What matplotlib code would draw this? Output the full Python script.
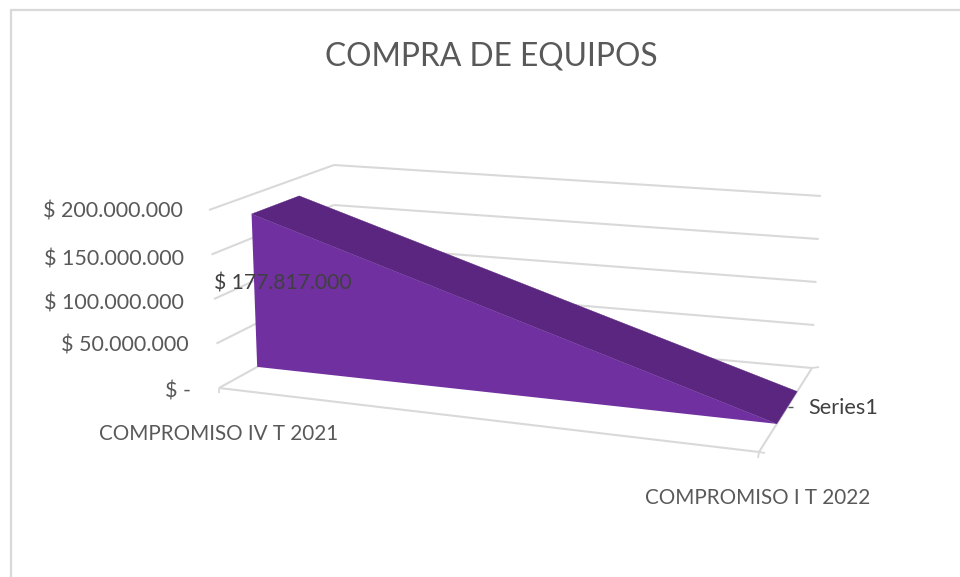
import numpy as np
import matplotlib
matplotlib.use("Agg")
import matplotlib.pyplot as plt
from matplotlib.patches import Polygon

plt.rcParams['font.family'] = ['Lato', 'DejaVu Sans']

W, H = 960, 577

title = "COMPRA DE EQUIPOS"
categories = ["COMPROMISO IV T 2021", "COMPROMISO I T 2022"]
series_name = "Series1"
values = [177817000, 0]
value_ticks = [0, 50000000, 100000000, 150000000, 200000000]
value_tick_labels = ["$ -", "$ 50.000.000", "$ 100.000.000", "$ 150.000.000", "$ 200.000.000"]
data_label = "$ 177.817.000"

# Projected corners of the 3D box, screen pixels: (category, depth, value fraction)
corner = {
    (0, 0, 0): (219, 388), (1, 0, 0): (759, 452),
    (0, 1, 0): (333, 325), (1, 1, 0): (812, 368),
    (0, 0, 1): (209, 210), (1, 0, 1): (745, 262),
    (0, 1, 1): (334, 165), (1, 1, 1): (821, 196),
}
AREA_FRONT, AREA_BACK = 0.335, 0.72
VMAX = value_ticks[-1]


def project(x, d, v):
    """Trilinear projection of (category position, depth, value) to pixels."""
    f = v / VMAX
    p = np.zeros(2)
    for i in (0, 1):
        for j in (0, 1):
            for k in (0, 1):
                w = (x if i else 1 - x) * (d if j else 1 - d) * (f if k else 1 - f)
                p += w * np.array(corner[(i, j, k)], float)
    return p


fig = plt.figure(figsize=(W / 100, H / 100), dpi=100)
ax = fig.add_axes([0, 0, 1, 1])
ax.set_xlim(0, W)
ax.set_ylim(H, 0)
ax.axis("off")

# chart frame: only the left and top edges fall inside the picture
ax.plot([11, 11, W], [H, 10, 10], color="#D9D9D9", lw=1.6, zorder=1,
        solid_joinstyle="miter")

GRID = "#D9D9D9"
GL = 1.5


def seg(a, b, color=GRID, lw=GL, z=2):
    ax.plot([a[0], b[0]], [a[1], b[1]], color=color, lw=lw, zorder=z,
            solid_capstyle="butt")


# walls: gridlines on left wall and back wall
for v in value_ticks:
    seg(project(0, 0, v), project(0, 1, v))
    seg(project(0, 1, v), project(1, 1, v))

# floor edges and ticks
seg(project(0, 0, 0), project(1, 0, 0))
seg(project(1, 0, 0), project(1, 1, 0))
p = project(0, 0, 0)
seg(p, p + [0, 5], lw=1.3)
p = project(1, 0, 0)
seg(p, p + [-1, 6], lw=1.3)
seg(p, p + [6, 1], lw=1.3)
p = project(1, 1, 0)
seg(p, p + [7, -1], lw=1.3)
p = project(1, 0.5, 0)
seg(p + [2, -3], p + [7, -3], color="#595959", lw=1.0)

# area: top face and front face
f0 = project(0, AREA_FRONT, values[0])
f1 = project(1, AREA_FRONT, values[1])
b0 = project(0, AREA_BACK, values[0])
b1 = project(1, AREA_BACK, values[1])
g0 = project(0, AREA_FRONT, 0)
g1 = project(1, AREA_FRONT, 0)
ax.add_patch(Polygon([f0, b0, b1, f1], closed=True, fc="#5B2680", ec="#5B2680", lw=0.3, zorder=3))
ax.add_patch(Polygon([f0, f1, g1, g0], closed=True, fc="#7030A0", ec="none", zorder=4))

TXT = "#595959"
FS_VAL = 15.5
FS_CAT = 14.85
ax.text(491, 56, title, ha="center", va="center", fontsize=22.9, color=TXT, zorder=6)
tick_pos = [(191, 391), (189, 346), (184, 303), (184, 259), (183, 212)]
for (x, y), lab in zip(tick_pos, value_tick_labels):
    ax.text(x, y, lab, ha="right", va="center", fontsize=FS_VAL, color=TXT, zorder=6)
ax.text(218.5, 434, categories[0], ha="center", va="center", fontsize=FS_CAT, color=TXT, zorder=6)
ax.text(758, 498, categories[1], ha="center", va="center", fontsize=FS_CAT, color=TXT, zorder=6)
ax.text(808, 408, series_name, ha="left", va="center", fontsize=15.6, color="#404040", zorder=6)
ax.text(214, 283, data_label, ha="left", va="center", fontsize=15.2, color="#404040", zorder=6)

fig.savefig("out.png", dpi=100)
